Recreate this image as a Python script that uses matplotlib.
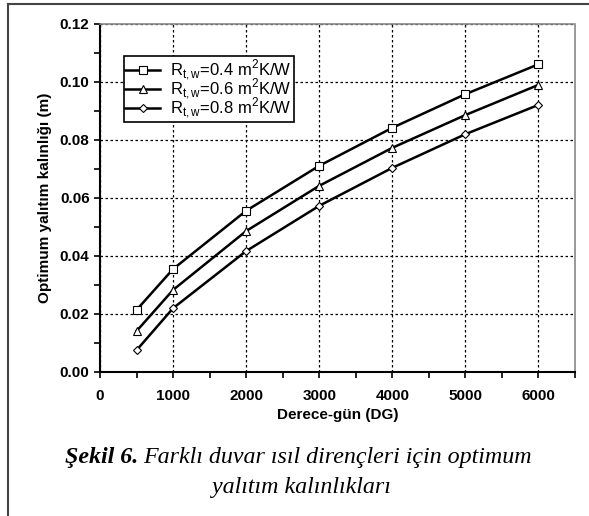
import numpy as np
import matplotlib
matplotlib.use("Agg")
import matplotlib.pyplot as plt
from matplotlib.lines import Line2D
from matplotlib.ticker import MultipleLocator

plt.rcParams['font.family'] = ['Liberation Sans', 'DejaVu Sans']

# degree-days
dg = [500, 1000, 2000, 3000, 4000, 5000, 6000]
# optimum insulation thickness (m) for each wall resistance
r04 = [0.0214, 0.0355, 0.0556, 0.0711, 0.0842, 0.0958, 0.1061]
r06 = [0.0141, 0.0283, 0.0486, 0.0642, 0.0773, 0.0886, 0.0990]
r08 = [0.0075, 0.0220, 0.0417, 0.0573, 0.0704, 0.0820, 0.0921]
labels = ['R$_{\\mathregular{t,w}}$=0.4 m$^{\\mathregular{2}}$K/W',
          'R$_{\\mathregular{t,w}}$=0.6 m$^{\\mathregular{2}}$K/W',
          'R$_{\\mathregular{t,w}}$=0.8 m$^{\\mathregular{2}}$K/W']
markers = ['s', '^', 'D']
msizes = [5.5, 6, 4.2]

fig = plt.figure(figsize=(5.89, 5.16), dpi=100)
ax = fig.add_axes([0.1698, 0.2791, 0.8064, 0.6744])

for ys, lab, mk, ms in zip([r04, r06, r08], labels, markers, msizes):
    ax.plot(dg, ys, color='black', lw=1.8, marker=mk, ms=ms,
            mfc='white', mec='black', mew=0.8, label=lab)

ax.set_xlim(0, 6500)
ax.set_ylim(0, 0.12)
ax.set_xticks([0, 1000, 2000, 3000, 4000, 5000, 6000])
ax.xaxis.set_minor_locator(MultipleLocator(500))
ax.set_yticks([0.00, 0.02, 0.04, 0.06, 0.08, 0.10, 0.12])
ax.yaxis.set_minor_locator(MultipleLocator(0.01))
ax.set_yticklabels(['0.00', '0.02', '0.04', '0.06', '0.08', '0.10', '0.12'])
ax.grid(True, which='major', color='black', ls=(0, (2, 2)), lw=0.9)
ax.tick_params(which='both', direction='out', length=4, width=1.2, labelsize=11)
ax.tick_params(axis='x', pad=8)
for lbl in ax.get_xticklabels() + ax.get_yticklabels():
    lbl.set_fontweight('bold')

for s in ['left', 'bottom']:
    ax.spines[s].set_linewidth(1.5)
for s in ['top', 'right']:
    ax.spines[s].set_color('#888888')
    ax.spines[s].set_linestyle((0, (1.5, 1)))
    ax.spines[s].set_linewidth(1.2)

ax.set_xlabel('Derece-gün (DG)', fontsize=11, fontweight='bold', labelpad=4)
ax.set_ylabel('Optimum yalıtım kalınlığı (m)', fontsize=11, fontweight='bold', labelpad=6)

leg = ax.legend(loc='upper left', bbox_to_anchor=(0.05, 0.908), fancybox=False,
                edgecolor='black', framealpha=1, fontsize=12, handlelength=2.1,
                borderpad=0.1, labelspacing=-0.38, handletextpad=0.6, borderaxespad=0)
leg.get_frame().set_linewidth(1.2)

# caption
fig.text(0.111, 1 - 457 / 516, 'Şekil 6.', family='Liberation Serif', style='italic',
         fontweight='bold', fontsize=17.3, ha='left', va='center')
fig.text(0.243, 1 - 457 / 516, 'Farklı duvar ısıl dirençleri için optimum', family='Liberation Serif',
         style='italic', fontsize=17.3, ha='left', va='center')
fig.text(0.511, 1 - 488 / 516, 'yalıtım kalınlıkları', family='Liberation Serif',
         style='italic', fontsize=17.3, ha='center', va='center')

# page frame lines
fig.add_artist(Line2D([8 / 589, 1], [1 - 4 / 516, 1 - 4 / 516], color='#444444', lw=1.5))
fig.add_artist(Line2D([8 / 589, 8 / 589], [0, 1 - 4 / 516], color='#444444', lw=1.5))

fig.savefig('out.png', dpi=100)
